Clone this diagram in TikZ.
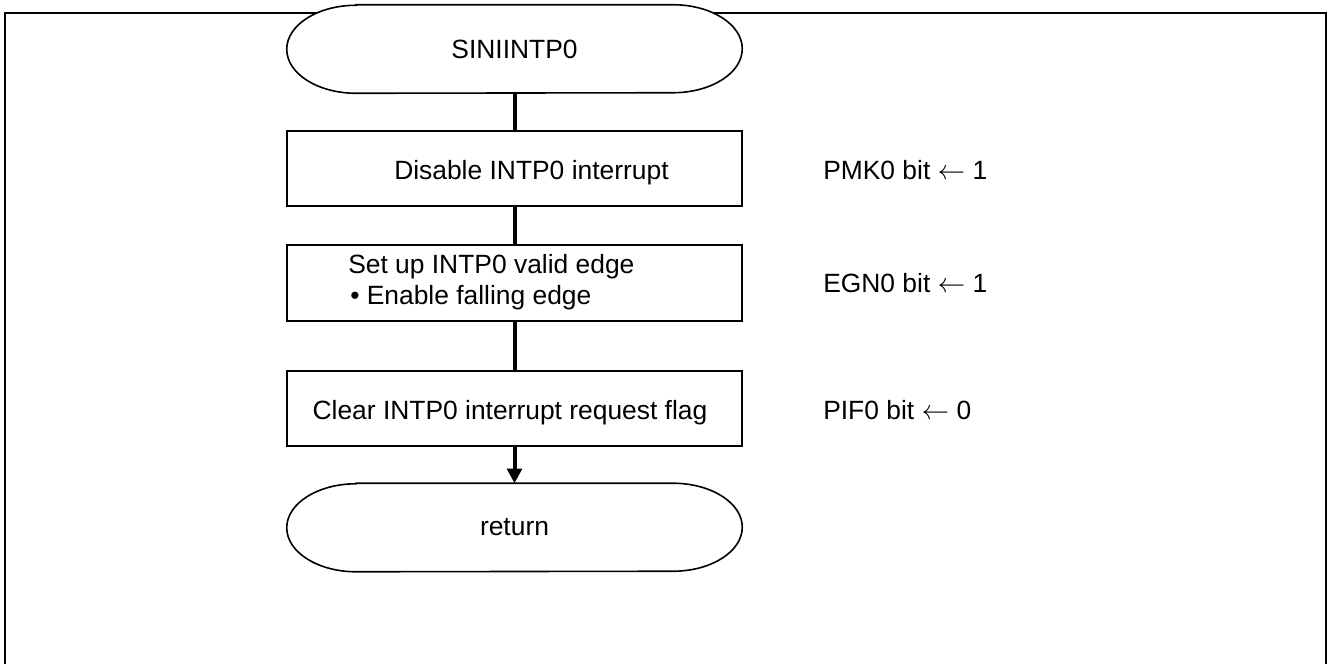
\documentclass[tikz,border=0pt]{standalone}
\usepackage{fontspec}
\setmainfont{Liberation Sans}
\usetikzlibrary{arrows.meta}
\begin{document}
\begin{tikzpicture}[x=0.75pt,y=-0.75pt,
  txt/.style={font=\fontsize{19.8}{23.25}\selectfont, inner sep=0pt},
  boxshape/.style={draw, line width=1.2pt, minimum width=341.25pt, inner sep=0pt},
  termbase/.style={txt, minimum width=341.25pt, minimum height=66pt},
  termline/.style={line width=1.2pt, fill=white},
  conn/.style={line width=3pt},
  frameline/.style={line width=1.3pt}
]
\useasboundingbox (0,0) rectangle (1328,664);
% frame, open at the bottom
\draw[frameline] (5,664) -- (5,13) -- (1326,13) -- (1326,664);

% terminals
\newcommand{\stadium}[1]{%
  \draw[termline] ([xshift=52pt]#1.north west) -- ([xshift=-52pt]#1.north east)
    arc[start angle=90,end angle=-90,x radius=52pt,y radius=33pt]
    -- ([xshift=52pt]#1.south west)
    arc[start angle=270,end angle=90,x radius=52pt,y radius=33pt] -- cycle;}

\node[termbase] (s) at (514.5,49) {};
\stadium{s}
\node[txt] (stext) at (514.5,49) {SINIINTP0};

\node[termbase] (r) at (514.5,527.5) {};
\stadium{r}
\node[txt] (rtext) at (514.5,527.5) {return};

% process boxes
\node[boxshape, minimum height=56.25pt] (b1) at (514.5,168.5) {};
\node[boxshape, minimum height=57pt] (b2) at (514.5,283) {};
\node[boxshape, minimum height=56.25pt] (b3) at (514.5,408.5) {};

\node[txt, anchor=base west] (t1) at (394,179) {Disable INTP0 interrupt};
\node[txt, anchor=base west] (t2a) at (348,273) {Set up INTP0 valid edge};
\node[txt, anchor=base west] (t2b) at (350,304) {\textbullet\ Enable falling edge};
\node[txt, anchor=base] (t3) at (510,419.5) {Clear INTP0 interrupt request flag};

% connectors
\draw[conn] (s) -- (b1);
\draw[conn] (b1) -- (b2);
\draw[conn] (b2) -- (b3);
\draw[conn, -{Triangle[width=11pt,length=11pt]}] (b3) -- (r);

% register notes
\node[txt, anchor=base west] (n1) at (823,179) {PMK0 bit $\leftarrow$ 1};
\node[txt, anchor=base west] (n2) at (823,292.5) {EGN0 bit $\leftarrow$ 1};
\node[txt, anchor=base west] (n3) at (823,419.5) {PIF0 bit $\leftarrow$ 0};
\end{tikzpicture}
\end{document}
